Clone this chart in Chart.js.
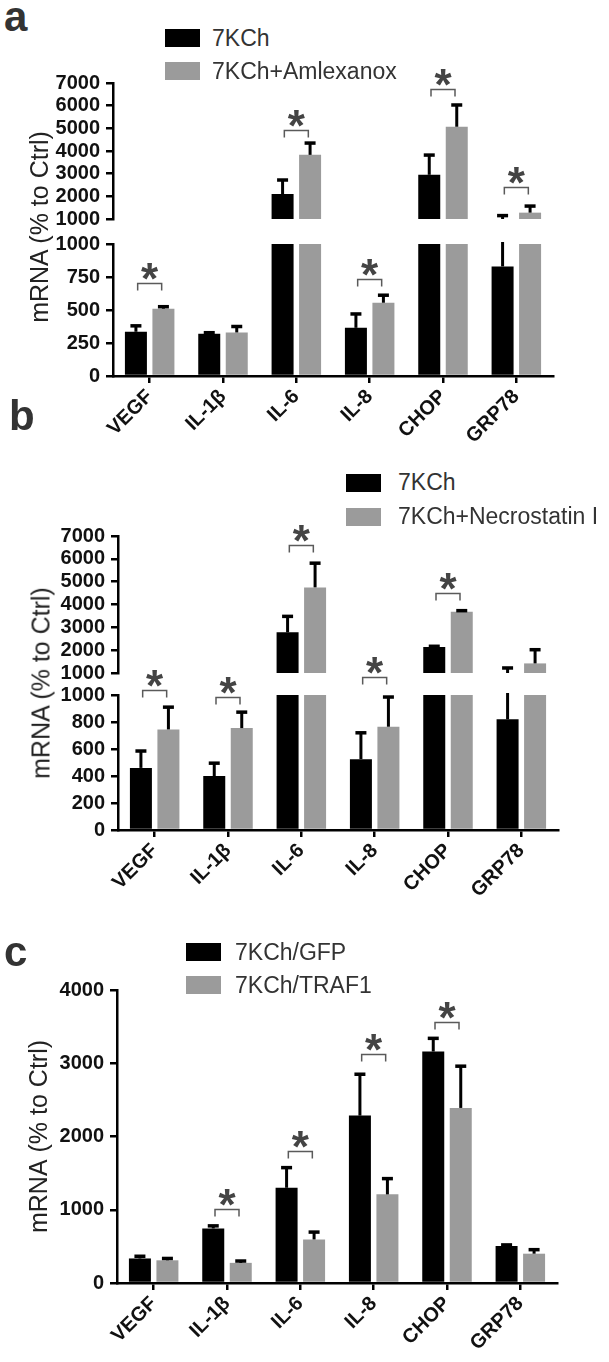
<!DOCTYPE html>
<html><head><meta charset="utf-8">
<script src="https://cdn.jsdelivr.net/npm/chart.js@4.4.1/dist/chart.umd.min.js"></script>
<style>
html,body{margin:0;padding:0;background:#fff;}
body{width:609px;height:1362px;position:relative;overflow:hidden;font-family:"Liberation Sans",Arial,sans-serif;}
canvas{position:absolute;left:0;}
.letter{position:absolute;font-weight:bold;font-size:42px;line-height:42px;color:#333;}
.leg{position:absolute;display:flex;align-items:center;font-size:23px;line-height:23px;color:#333;white-space:nowrap;}
.leg i{display:inline-block;width:35px;height:18px;}
.ytitle{position:absolute;font-size:25px;line-height:25px;color:#222;white-space:nowrap;transform:translate(-50%,-50%) rotate(-90deg);}
</style></head>
<body>
<canvas id="aHi" width="609" height="175" style="top:60px"></canvas>
<canvas id="aLo" width="609" height="232" style="top:228px"></canvas>
<canvas id="bHi" width="609" height="175" style="top:515px"></canvas>
<canvas id="bLo" width="609" height="280" style="top:640px"></canvas>
<canvas id="cC" width="609" height="422" style="top:940px"></canvas>

<div class="letter" style="left:4px;top:-4px">a</div>
<div class="letter" style="left:9px;top:395px">b</div>
<div class="letter" style="left:4px;top:931px">c</div>
<div class="ytitle" style="left:39px;top:227px">mRNA (% to Ctrl)</div>
<div class="ytitle" style="left:41px;top:683px">mRNA (% to Ctrl)</div>
<div id="legA1" class="leg" style="left:165px;top:26.5px"></div>
<div id="legA2" class="leg" style="left:165px;top:59.5px"></div>
<div id="legB1" class="leg" style="left:346px;top:471px"></div>
<div id="legB2" class="leg" style="left:346px;top:505px"></div>
<div id="legC1" class="leg" style="left:186px;top:940.5px"></div>
<div id="legC2" class="leg" style="left:186px;top:973.5px"></div>

<script>
// ---------- data ----------
const categories = ['VEGF', 'IL-1β', 'IL-6', 'IL-8', 'CHOP', 'GRP78'];

const seriesA = ['7KCh', '7KCh+Amlexanox'];
const a7KCh      = [335, 320, 2100, 365, 2950, 830];
const a7KChErr   = [45, 8, 620, 105, 870, 320];
const aAmlex     = [510, 330, 3830, 555, 5070, 1280];
const aAmlexErr  = [15, 45, 520, 57, 960, 290];
const aTicksHi   = [1000, 2000, 3000, 4000, 5000, 6000, 7000];
const aTicksLo   = [0, 250, 500, 750, 1000];
const aSigHi     = [[2, 4926], [4, 6720], [5, 2425]];
const aSigLo     = [[0, 704], [3, 733]];

const seriesB = ['7KCh', '7KCh+Necrostatin I'];
const b7KCh      = [460, 400, 2780, 525, 2140, 820];
const b7KChErr   = [125, 95, 700, 195, 30, 400];
const bNecro     = [745, 755, 4750, 765, 3680, 1420];
const bNecroErr  = [165, 118, 1060, 220, 50, 600];
const bTicksHi   = [1000, 2000, 3000, 4000, 5000, 6000, 7000];
const bTicksLo   = [0, 200, 400, 600, 800, 1000];
const bSigHi     = [[2, 6603], [4, 4520]];
const bSigLo     = [[0, 1037], [1, 987], [3, 1133]];

const seriesC = ['7KCh/GFP', '7KCh/TRAF1'];
const cGFP       = [335, 745, 1300, 2285, 3160, 505];
const cGFPErr    = [30, 35, 275, 565, 180, 15];
const cTRAF      = [310, 275, 595, 1210, 2390, 400];
const cTRAFErr   = [25, 25, 100, 215, 570, 55];
const cTicks     = [0, 1000, 2000, 3000, 4000];
const cSig       = [[1, 1016], [2, 1799], [3, 3120], [4, 3566]];

const yTitle = 'mRNA (% to Ctrl)';

// ---------- style ----------
const BLACK = '#000000', GRAY = '#9b9b9b';
const FONT = '"Liberation Sans", Arial, sans-serif';
Chart.defaults.font.family = FONT;

// legends (HTML)
function legend(id, color, text, gap) {
  const el = document.getElementById(id);
  const box = document.createElement('i');
  box.style.background = color; box.style.marginRight = gap + 'px';
  el.appendChild(box);
  el.appendChild(document.createTextNode(text));
}
legend('legA1', BLACK, seriesA[0], 12); legend('legA2', GRAY, seriesA[1], 12);
legend('legB1', BLACK, seriesB[0], 17); legend('legB2', GRAY, seriesB[1], 17);
legend('legC1', BLACK, seriesC[0], 14); legend('legC2', GRAY, seriesC[1], 14);

// ---------- plugins ----------
const errorBarPlugin = {
  id: 'errbars',
  afterDatasetsDraw(chart, args, opts) {
    const {ctx, chartArea: ca} = chart;
    const ys = chart.scales.y;
    ctx.save();
    ctx.beginPath();
    ctx.rect(ca.left, ca.top - 2, ca.right - ca.left, ca.bottom - ca.top + 2);
    ctx.clip();
    ctx.strokeStyle = '#000';
    chart.data.datasets.forEach((ds, di) => {
      const meta = chart.getDatasetMeta(di);
      const errs = opts.errors[di];
      meta.data.forEach((bar, i) => {
        const v = ds.data[i], e = errs[i];
        const x = bar.x;
        const y0 = ys.getPixelForValue(v), y1 = ys.getPixelForValue(v + e);
        if (y1 > ca.bottom - 1) return;          // whole error bar below this segment
        ctx.lineWidth = 3;
        ctx.beginPath(); ctx.moveTo(x, y0); ctx.lineTo(x, y1); ctx.stroke();
        if (y1 >= ca.top) {                      // cap only when it lies inside this segment
          ctx.lineWidth = 3.5;
          ctx.beginPath(); ctx.moveTo(x - 5.5, y1); ctx.lineTo(x + 5.5, y1); ctx.stroke();
        }
      });
    });
    ctx.restore();
  }
};

const sigPlugin = {
  id: 'sig',
  afterDraw(chart, args, opts) {
    if (!opts.marks || !opts.marks.length) return;
    const {ctx} = chart;
    const xs = chart.scales.x, ys = chart.scales.y;
    ctx.save();
    opts.marks.forEach(([idx, val]) => {
      const x = xs.getPixelForValue(idx);
      const y = Math.round(ys.getPixelForValue(val)) + 0.5;
      ctx.strokeStyle = '#5a5a5a'; ctx.lineWidth = 1.5;
      ctx.beginPath();
      ctx.moveTo(x - 12, y + 7); ctx.lineTo(x - 12, y); ctx.lineTo(x + 12, y); ctx.lineTo(x + 12, y + 7);
      ctx.stroke();
      ctx.font = 'bold 44px ' + FONT;
      ctx.fillStyle = '#444'; ctx.textAlign = 'center'; ctx.textBaseline = 'alphabetic';
      const mt = ctx.measureText('*');
      const cy = y - 12;
      ctx.fillText('*', x, cy + (mt.actualBoundingBoxAscent - mt.actualBoundingBoxDescent) / 2);
    });
    ctx.restore();
  }
};

// ---------- chart builder ----------
function buildChart(id, cfg) {
  const cv = document.getElementById(id);
  const H = cv.height;
  const canvasTop = parseFloat(cv.style.top);
  const xH = canvasTop + H - cfg.areaBottom;
  return new Chart(cv, {
    type: 'bar',
    data: {
      labels: categories,
      datasets: cfg.series.map(s => ({
        label: s.label, data: s.data, backgroundColor: s.color,
        borderWidth: 0, categoryPercentage: 0.75, barPercentage: 0.8, clip: 0
      }))
    },
    options: {
      responsive: false, animation: false, devicePixelRatio: 1,
      layout: { padding: { left: 0, right: 609 - cfg.right, top: cfg.areaTop - canvasTop, bottom: cfg.showX ? 0 : xH } },
      plugins: {
        legend: { display: false }, tooltip: { enabled: false },
        errbars: { errors: cfg.series.map(s => s.err) },
        sig: { marks: cfg.marks }
      },
      scales: {
        x: {
          display: cfg.showX, offset: true,
          grid: { offset: false, drawOnChartArea: false, color: '#000', lineWidth: 2.5, tickLength: 7 },
          border: { display: true, color: '#000', width: 2.5 },
          ticks: { color: '#111', font: { size: 20, weight: 'bold' }, minRotation: 45, maxRotation: 45, autoSkip: false, padding: 2 },
          afterFit: s => { if (cfg.showX) s.height = xH; }
        },
        y: {
          min: cfg.ticks[0], max: cfg.ticks[cfg.ticks.length - 1],
          afterBuildTicks: s => { s.ticks = cfg.ticks.map(v => ({ value: v })); },
          grid: { drawOnChartArea: false, color: '#000', lineWidth: 2.5, tickLength: 7 },
          border: { display: true, color: '#000', width: 2.5 },
          ticks: { color: '#111', font: { size: 20, weight: 'bold', lineHeight: 1 }, autoSkip: false, padding: 6, callback: v => String(v) },
          title: cfg.title ? { display: true, text: cfg.title, color: '#222', font: { size: 25, weight: 'normal' }, padding: { top: 25, bottom: 0 } } : { display: false },
          afterFit: s => { s.width = cfg.left; }
        }
      }
    },
    plugins: [errorBarPlugin, sigPlugin]
  });
}

const serA = [
  { label: seriesA[0], data: a7KCh, err: a7KChErr, color: BLACK },
  { label: seriesA[1], data: aAmlex, err: aAmlexErr, color: GRAY }
];
const serB = [
  { label: seriesB[0], data: b7KCh, err: b7KChErr, color: BLACK },
  { label: seriesB[1], data: bNecro, err: bNecroErr, color: GRAY }
];
const serC = [
  { label: seriesC[0], data: cGFP, err: cGFPErr, color: BLACK },
  { label: seriesC[1], data: cTRAF, err: cTRAFErr, color: GRAY }
];

buildChart('aHi', { series: serA, ticks: aTicksHi, marks: aSigHi, left: 113, right: 553, areaTop: 83, areaBottom: 219, showX: false });
buildChart('aLo', { series: serA, ticks: aTicksLo, marks: aSigLo, left: 113, right: 553, areaTop: 242, areaBottom: 376, showX: true });
buildChart('bHi', { series: serB, ticks: bTicksHi, marks: bSigHi, left: 118, right: 558, areaTop: 536, areaBottom: 673, showX: false });
buildChart('bLo', { series: serB, ticks: bTicksLo, marks: bSigLo, left: 118, right: 558, areaTop: 695, areaBottom: 830, showX: true });
buildChart('cC',  { series: serC, ticks: cTicks, marks: cSig, left: 117, right: 557, areaTop: 990, areaBottom: 1283, showX: true, title: yTitle });
</script>
</body></html>
